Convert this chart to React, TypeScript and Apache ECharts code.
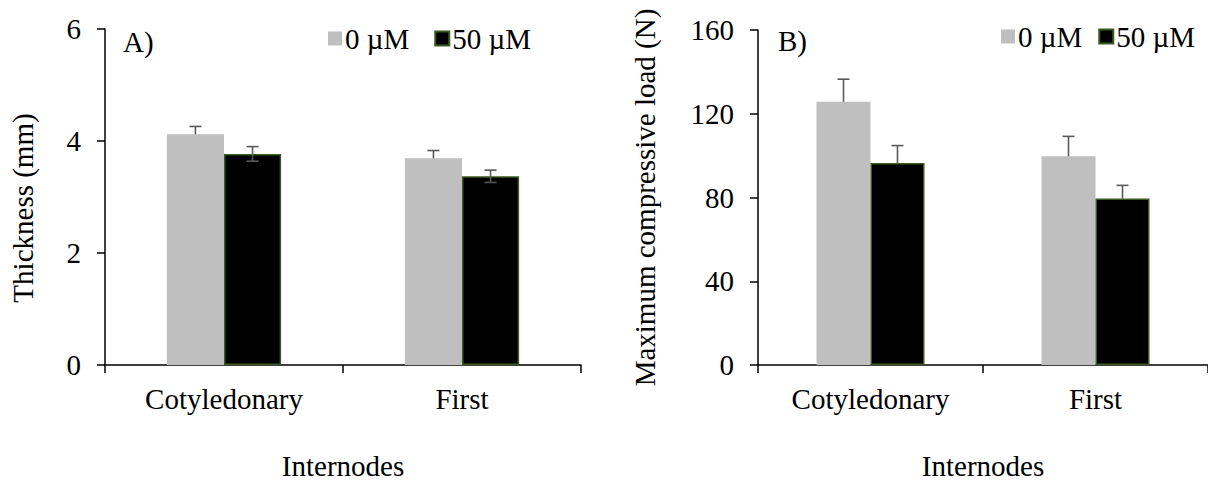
import React, { useEffect, useRef } from "react";
import * as echarts from "echarts";

const categories = ["Cotyledonary", "First"];
const seriesNames = ["0 µM", "50 µM"];

// Panel A: thickness (mm)
const thickness0 = [4.12, 3.69];
const thickness50 = [3.77, 3.37];
const thicknessErr0 = [0.14, 0.14];
const thicknessErr50 = [0.13, 0.11];

// Panel B: maximum compressive load (N)
const load0 = [125.7, 99.7];
const load50 = [96.5, 79.5];
const loadErr0 = [10.8, 9.5];
const loadErr50 = [8.3, 6.3];

const FONT = "'Liberation Serif', 'Times New Roman', serif";
const FS = 29;
const GRAY = "#bfbfbf";
const BLACK = "#000000";
const BORDER_GREEN = "#3b5a22";
const ERR_COLOR = "#595959";

function errSeries(
  gridIdx: number,
  values: number[],
  errs: number[],
  offsetFrac: number,
  both: boolean
) {
  return {
    type: "custom",
    name: "err" + gridIdx + "_" + offsetFrac,
    xAxisIndex: gridIdx,
    yAxisIndex: gridIdx,
    z: 10,
    silent: true,
    encode: { x: 0, y: 1 },
    data: values.map((v, i) => [i, v, errs[i]]),
    renderItem: (params: any, api: any) => {
      const x = api.value(0);
      const v = api.value(1);
      const e = api.value(2);
      const c = api.coord([x, v]);
      const bw = api.size([1, 0])[0];
      const cx = c[0] + offsetFrac * bw;
      const top = api.coord([x, v + e])[1];
      const bot = both ? api.coord([x, v - e])[1] : c[1];
      const half = 6;
      const style = { stroke: ERR_COLOR, lineWidth: 1.6 };
      const children: any[] = [
        { type: "line", shape: { x1: cx, y1: top, x2: cx, y2: bot }, style },
        { type: "line", shape: { x1: cx - half, y1: top, x2: cx + half, y2: top }, style },
      ];
      if (both) {
        children.push({
          type: "line",
          shape: { x1: cx - half, y1: bot, x2: cx + half, y2: bot },
          style,
        });
      }
      return { type: "group", children };
    },
  };
}

function barSeries(gridIdx: number, name: string, data: number[], black: boolean) {
  return {
    type: "bar",
    name,
    xAxisIndex: gridIdx,
    yAxisIndex: gridIdx,
    barWidth: "24%",
    barGap: "0%",
    data,
    itemStyle: black
      ? { color: BLACK, borderColor: BORDER_GREEN, borderWidth: 1.5 }
      : { color: GRAY },
  };
}

const textStyle = { fontFamily: FONT, fontSize: FS, color: "#000" };

function xAxis(gridIdx: number) {
  return {
    type: "category",
    gridIndex: gridIdx,
    data: categories,
    name: "Internodes",
    nameLocation: "middle",
    nameGap: 86,
    nameTextStyle: textStyle,
    axisLine: { lineStyle: { color: "#000", width: 1.5 } },
    axisTick: { show: true, length: 8, lineStyle: { color: "#000", width: 1.5 } },
    axisLabel: { ...textStyle, margin: 19 },
  };
}

function yAxis(
  gridIdx: number,
  name: string,
  max: number,
  interval: number,
  gap: number,
  namePad: number[]
) {
  return {
    type: "value",
    gridIndex: gridIdx,
    min: 0,
    max,
    interval,
    name,
    nameLocation: "middle",
    nameGap: gap,
    nameTextStyle: { ...textStyle, padding: namePad },
    splitLine: { show: false },
    axisLine: { show: true, lineStyle: { color: "#000", width: 1.5 } },
    axisTick: { show: true, length: 8, lineStyle: { color: "#000", width: 1.5 } },
    axisLabel: { ...textStyle, margin: 24 },
  };
}

function legend(left: number, top: number, gap: number) {
  return {
    left,
    top,
    orient: "horizontal",
    data: seriesNames,
    icon: "rect",
    itemWidth: 14,
    itemHeight: 14,
    itemGap: gap,
    textStyle: { ...textStyle, padding: [0, 0, 0, -2] },
    selectedMode: false,
  };
}

export default function App() {
  const ref = useRef<HTMLDivElement>(null);
  useEffect(() => {
    if (!ref.current) return;
    document.body.style.margin = "0";
    const chart = echarts.init(ref.current, undefined, { renderer: "svg" });
    chart.setOption({
      animation: false,
      backgroundColor: "#fff",
      grid: [
        { left: 105, top: 29, width: 476, height: 340 },
        { left: 758, top: 30, width: 450, height: 336 },
      ],
      legend: [legend(323, 19, 25), legend(996, 17, 16)],
      xAxis: [xAxis(0), xAxis(1)],
      yAxis: [
        yAxis(0, "Thickness (mm)", 6, 2, 68, [0, 22, 0, 0]),
        yAxis(1, "Maximum compressive load (N)", 160, 40, 99, [0, 0, 0, 0]),
      ],
      series: [
        barSeries(0, seriesNames[0], thickness0, false),
        barSeries(0, seriesNames[1], thickness50, true),
        barSeries(1, seriesNames[0], load0, false),
        barSeries(1, seriesNames[1], load50, true),
        errSeries(0, thickness0, thicknessErr0, -0.12, false),
        errSeries(0, thickness50, thicknessErr50, 0.12, true),
        errSeries(1, load0, loadErr0, -0.12, false),
        errSeries(1, load50, loadErr50, 0.12, false),
      ],
      graphic: [
        { type: "text", left: 123, top: 27, style: { text: "A)", font: `${FS}px ${FONT}`, fill: "#000" } },
        { type: "text", left: 778, top: 26, style: { text: "B)", font: `${FS}px ${FONT}`, fill: "#000" } },
      ],
    });
    return () => chart.dispose();
  }, []);
  return (
    <div
      ref={ref}
      style={{ position: "absolute", left: 0, top: 0, width: 1208, height: 485 }}
    />
  );
}
